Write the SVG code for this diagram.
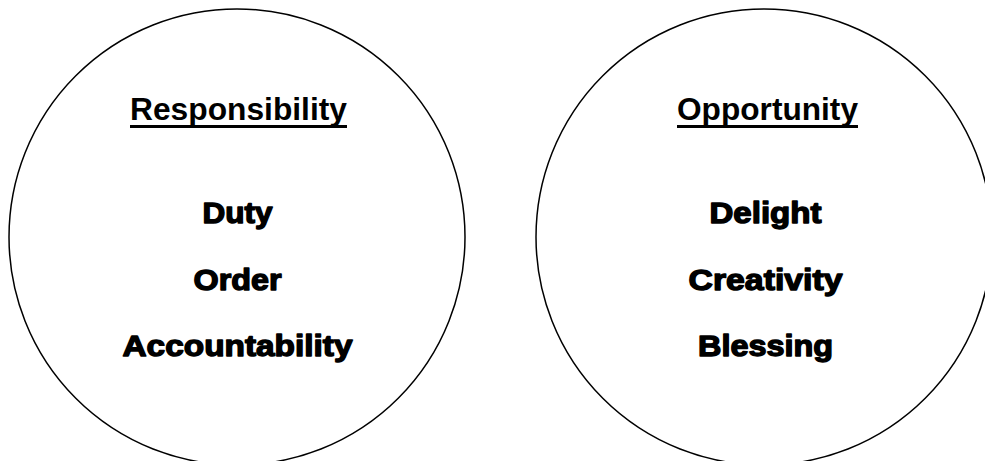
<svg xmlns="http://www.w3.org/2000/svg" width="985" height="461" viewBox="0 0 985 461">
<style>
.circ{fill:#fff;stroke:#000;stroke-width:1.5}
.head{font-family:"Liberation Sans",Arial,sans-serif;font-weight:bold;font-size:31.5px;fill:#000;text-anchor:middle}
.ul{stroke:#000;stroke-width:3}
.item{font-family:"Liberation Sans",Arial,sans-serif;font-weight:bold;font-size:30px;fill:#000;stroke:#000;stroke-width:1.4;stroke-linejoin:round;text-anchor:middle}
</style>
<rect width="985" height="461" fill="#fff"/>
<g id="responsibility">
<circle class="circ" cx="237" cy="237" r="228"/>
<text class="head" x="238.5" y="120" textLength="217" lengthAdjust="spacingAndGlyphs">Responsibility</text>
<line class="ul" x1="130" y1="126.5" x2="347" y2="126.5"/>
<text class="item" x="237.5" y="223" textLength="70" lengthAdjust="spacingAndGlyphs">Duty</text>
<text class="item" x="237.5" y="290" textLength="88" lengthAdjust="spacingAndGlyphs">Order</text>
<text class="item" x="237.5" y="356" textLength="230" lengthAdjust="spacingAndGlyphs">Accountability</text>
</g>
<g id="opportunity">
<circle class="circ" cx="764" cy="237" r="228"/>
<text class="head" x="767.5" y="120" textLength="181" lengthAdjust="spacingAndGlyphs">Opportunity</text>
<line class="ul" x1="677" y1="126.5" x2="858" y2="126.5"/>
<text class="item" x="765.5" y="223" textLength="112" lengthAdjust="spacingAndGlyphs">Delight</text>
<text class="item" x="765.5" y="290" textLength="154" lengthAdjust="spacingAndGlyphs">Creativity</text>
<text class="item" x="765.5" y="356" textLength="135" lengthAdjust="spacingAndGlyphs">Blessing</text>
</g>
<g id="connectors"/>
</svg>
